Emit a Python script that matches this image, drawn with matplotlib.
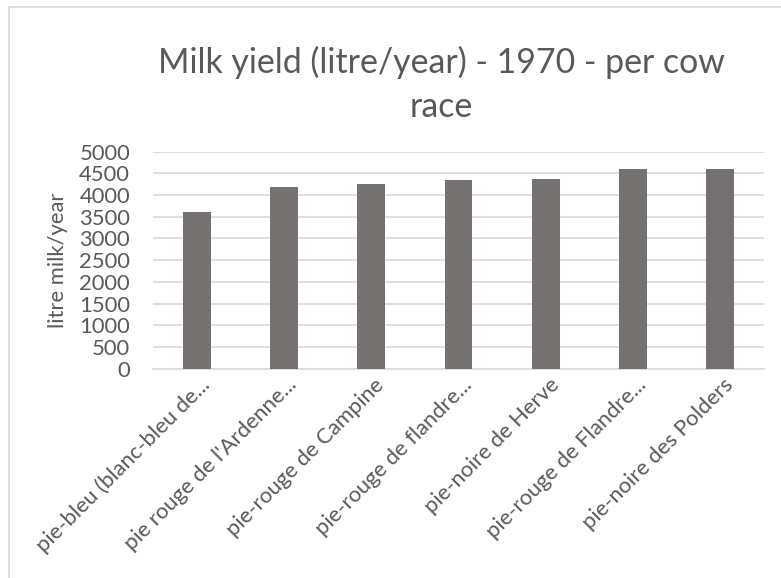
import matplotlib.pyplot as plt
import matplotlib.transforms as mtransforms
from matplotlib.lines import Line2D
import numpy as np

# cow races and their yearly milk yield (litre per cow, 1970)
races = ['pie-bleu (blanc-bleu de...', "pie rouge de l'Ardenne...", 'pie-rouge de Campine',
         'pie-rouge de flandre...', 'pie-noire de Herve', 'pie-rouge de Flandre...',
         'pie-noire des Polders']
milk_yield = [3610, 4180, 4255, 4345, 4370, 4595, 4610]
y_ticks = np.arange(0, 5001, 500)

text_color = '#595959'
grid_color = '#D9D9D9'
bar_color = '#767171'

plt.rcParams['font.family'] = ['Lato', 'DejaVu Sans']

fig = plt.figure(figsize=(7.81, 5.78), dpi=100)
W, H = 781, 578
ax = fig.add_axes([153 / W, 1 - 368.7 / H, 611 / W, 217 / H])

x = np.arange(len(races))
ax.bar(x, milk_yield, width=0.32, color=bar_color, zorder=3)

ax.set_xlim(-0.5, len(races) - 0.5)
ax.set_ylim(0, 5000)
ax.set_yticks(y_ticks)
ax.set_yticklabels([str(v) for v in y_ticks], fontsize=15.8, color=text_color)
ax.yaxis.grid(True, color=grid_color, linewidth=1.2, zorder=0)

for side in ['top', 'right', 'left']:
    ax.spines[side].set_visible(False)
ax.spines['bottom'].set_color(grid_color)
ax.spines['bottom'].set_linewidth(1.2)
ax.tick_params(axis='both', length=0)
ax.tick_params(axis='y', pad=16.5)
ax.tick_params(axis='x', pad=0)

ax.set_xticks(x)
ax.set_xticklabels(races, rotation=45, ha='right', va='top', rotation_mode='anchor',
                   fontsize=15.8, color=text_color)
shift = mtransforms.ScaledTranslation(3 / 100, -6 / 100, fig.dpi_scale_trans)
for lbl in ax.get_xticklabels():
    lbl.set_transform(lbl.get_transform() + shift)

ax.set_ylabel('litre milk/year', fontsize=15.8, color=text_color)
ax.yaxis.label.set_verticalalignment('center')
ax.yaxis.set_label_coords((58 - 153) / 611, 0.5)

# two-line title
fig.text(441 / W, 1 - 62 / H, 'Milk yield (litre/year) - 1970 - per cow',
         ha='center', va='center', fontsize=24.4, color=text_color)
fig.text(441 / W, 1 - 107 / H, 'race',
         ha='center', va='center', fontsize=24.4, color=text_color)

# chart frame (top and left edges visible)
fig.add_artist(Line2D([8.5 / W, 1], [1 - 7.3 / H, 1 - 7.3 / H], color=grid_color,
                      linewidth=1.2, transform=fig.transFigure))
fig.add_artist(Line2D([8.5 / W, 8.5 / W], [0, 1 - 7.3 / H], color=grid_color,
                      linewidth=1.2, transform=fig.transFigure))

fig.savefig('out.png', dpi=100)
